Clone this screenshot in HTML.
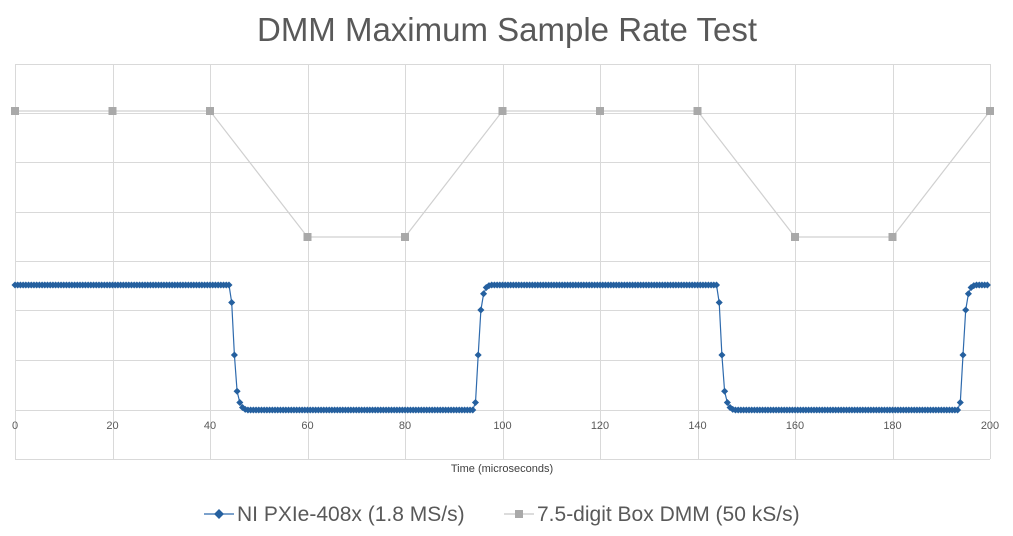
<!DOCTYPE html>
<html><head><meta charset="utf-8"><style>
body{margin:0;background:#fff;width:1013px;height:536px;overflow:hidden}
svg{display:block}
text{font-family:"Liberation Sans","DejaVu Sans",sans-serif}
</style></head><body>
<svg id="s" width="1013" height="536" xmlns="http://www.w3.org/2000/svg">
<text x="507" y="41" text-anchor="middle" font-size="33" fill="#595959">DMM Maximum Sample Rate Test</text>
<g id="grid" stroke="#d9d9d9" stroke-width="1"></g>
<g id="lab" font-size="11" fill="#595959" text-anchor="middle"></g>
<text x="502" y="472" text-anchor="middle" font-size="11" fill="#404040">Time (microseconds)</text>
<g id="dmm"></g>
<g id="ni"></g>
<g font-size="21" fill="#595959">
<line x1="204" y1="514" x2="234" y2="514" stroke="#2e6aad" stroke-width="1.2"/>
<rect x="215.5" y="510.5" width="7" height="7" fill="#25609f" transform="rotate(45 219 514)"/>
<text x="237" y="521">NI PXIe-408x (1.8 MS/s)</text>
<line x1="504" y1="514" x2="534" y2="514" stroke="#c8c8c8" stroke-width="1.2"/>
<rect x="515" y="510" width="8" height="8" fill="#a9a9a9"/>
<text x="537" y="521">7.5-digit Box DMM (50 kS/s)</text>
</g>
</svg>
<script>
const NS="http://www.w3.org/2000/svg";
function el(p,t,a){const e=document.createElementNS(NS,t);for(const k in a)e.setAttribute(k,a[k]);document.getElementById(p).appendChild(e);return e;}
const X=t=>15+t*4.875;
const ys=[64,113,162,212,261,310,360,410,459];
ys.forEach(y=>el("grid","line",{x1:15,x2:990,y1:y+.5,y2:y+.5}));
for(let i=0;i<=10;i++){const x=Math.round(X(i*20))+.5;el("grid","line",{x1:x,x2:x,y1:64,y2:459});
const t=el("lab","text",{x:X(i*20),y:429});t.textContent=i*20;}
const dv=[1,1,1,0,0,1,1,1,0,0,1];
const dp=dv.map((v,i)=>[X(i*20),v?111:237]);
el("dmm","polyline",{points:dp.map(p=>p.join(",")).join(" "),fill:"none",stroke:"#d0d0d0","stroke-width":1.2});
dp.forEach(p=>el("dmm","rect",{x:p[0]-4,y:p[1]-4,width:8,height:8,fill:"#a9a9a9"}));
const fall=[1,0.86,0.44,0.15,0.06,0.02,0.005];
const rise=[0.06,0.44,0.8,0.93,0.98,0.995];
const dt=0.5556;const pts=[];
const F=43.8,R=93.9;
for(let t=0;t<=199.5;t+=dt){
 const c=t%100;let v;
 if(c<F)v=1;
 else if(c<F+fall.length*dt){v=fall[Math.floor((c-F)/dt)];}
 else if(c<R)v=0;
 else if(c<R+rise.length*dt){v=rise[Math.floor((c-R)/dt)];}
 else v=1;
 pts.push([X(t),410-v*125]);
}
el("ni","polyline",{points:pts.map(p=>p[0].toFixed(1)+","+p[1].toFixed(1)).join(" "),fill:"none",stroke:"#2e6aad","stroke-width":1.2});
pts.forEach(p=>el("ni","rect",{x:p[0]-2.5,y:p[1]-2.5,width:5,height:5,fill:"#25609f",transform:`rotate(45 ${p[0]} ${p[1]})`}));
</script>
</body></html>
